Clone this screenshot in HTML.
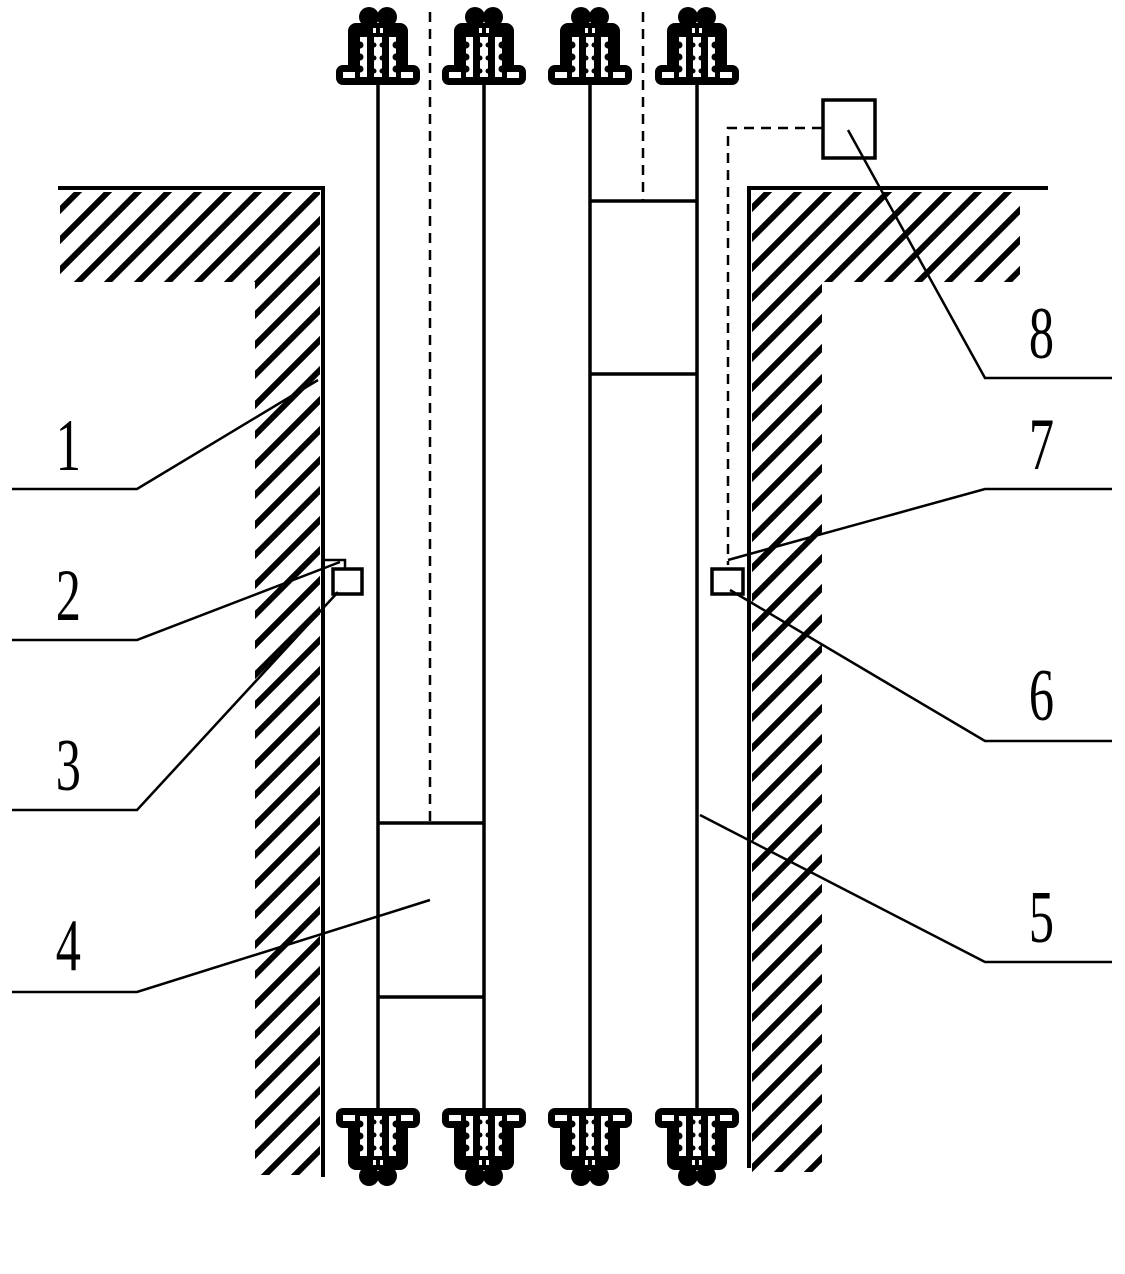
<!DOCTYPE html>
<html><head><meta charset="utf-8"><style>
html,body{margin:0;padding:0;background:#fff;}
svg{display:block;}
text{font-family:"Liberation Serif",serif;font-size:74px;fill:#000;}
</style></head><body>
<svg width="1125" height="1274" viewBox="0 0 1125 1274" xmlns="http://www.w3.org/2000/svg">
<defs>
<g id="pul">
  <circle cx="-9" cy="12" r="10" fill="#000"/>
  <circle cx="9" cy="12" r="10" fill="#000"/>
  <rect x="-30" y="18" width="60" height="56" rx="8" fill="#000"/>
  <rect x="-42" y="60" width="84" height="20" rx="7" fill="#000"/>
  <rect x="-35" y="67" width="12" height="6" fill="#fff"/>
  <rect x="23" y="67" width="12" height="6" fill="#fff"/>
  <rect x="-5" y="23" width="3" height="5" fill="#fff"/>
  <rect x="2" y="23" width="3" height="5" fill="#fff"/>
  <rect x="-18" y="32" width="7" height="40" fill="#fff"/>
  <rect x="-4" y="32" width="8" height="40" fill="#fff"/>
  <rect x="11" y="32" width="7" height="40" fill="#fff"/>
  <g fill="#000">
    <circle cx="-18" cy="40" r="3.5"/><circle cx="-18" cy="52" r="3.5"/><circle cx="-18" cy="64" r="3.5"/>
    <circle cx="18" cy="40" r="3.5"/><circle cx="18" cy="52" r="3.5"/><circle cx="18" cy="64" r="3.5"/>
    <circle cx="-4" cy="40" r="2.5"/><circle cx="4" cy="40" r="2.5"/>
    <circle cx="-4" cy="53" r="2.5"/><circle cx="4" cy="53" r="2.5"/>
    <circle cx="-4" cy="66" r="2.5"/><circle cx="4" cy="66" r="2.5"/>
  </g>
</g>
<pattern id="hatch" patternUnits="userSpaceOnUse" width="30" height="30">
  <path d="M-5,35 L35,-5 M-20,20 L20,-20 M10,50 L50,10" stroke="#000" stroke-width="6"/>
</pattern>
</defs>

<path d="M60,192 H320 V1175 H255 V282 H60 Z" fill="url(#hatch)"/>
<path d="M752,192 H1020 V282 H822 V1172 H752 Z" fill="url(#hatch)"/>
<g stroke="#000" stroke-width="4" fill="none">
  <path d="M58,188 H323 V1177"/>
  <path d="M1048,188 H749 V1168"/>
</g>

<g stroke="#000" stroke-width="3.5">
  <line x1="378" y1="82" x2="378" y2="1110"/>
  <line x1="484" y1="82" x2="484" y2="1110"/>
  <line x1="590" y1="82" x2="590" y2="1110"/>
  <line x1="697" y1="82" x2="697" y2="1110"/>
  <line x1="378" y1="823" x2="484" y2="823"/>
  <line x1="378" y1="997" x2="484" y2="997"/>
  <line x1="590" y1="201" x2="697" y2="201"/>
  <line x1="590" y1="374" x2="697" y2="374"/>
</g>
<g stroke="#000" stroke-width="2.5" stroke-dasharray="10,7" fill="none">
  <line x1="430" y1="12" x2="430" y2="823"/>
  <line x1="643" y1="12" x2="643" y2="201"/>
  <path d="M822,128 H728 V565"/>
</g>

<use href="#pul" transform="translate(378,5)"/>
<use href="#pul" transform="translate(484,5)"/>
<use href="#pul" transform="translate(590,5)"/>
<use href="#pul" transform="translate(697,5)"/>
<use href="#pul" transform="translate(378,1188) scale(1,-1)"/>
<use href="#pul" transform="translate(484,1188) scale(1,-1)"/>
<use href="#pul" transform="translate(590,1188) scale(1,-1)"/>
<use href="#pul" transform="translate(697,1188) scale(1,-1)"/>

<g stroke="#000" stroke-width="3.5" fill="#fff">
  <rect x="823" y="100" width="52" height="58"/>
  <rect x="333" y="569" width="29" height="25"/>
  <rect x="712" y="569" width="31" height="25"/>
</g>
<g stroke="#000" stroke-width="2.5" fill="none">
  <path d="M323,560 H345 V569"/>
  <path d="M12,489 H137 L318,380"/>
  <path d="M12,640 H137 L340,562"/>
  <path d="M12,810 H137 L338,592"/>
  <path d="M12,992 H137 L430,900"/>
  <path d="M1112,962 H985 L700,815"/>
  <path d="M1112,741 H985 L730,590"/>
  <path d="M1112,489 H985 L728,560"/>
  <path d="M1112,378 H985 L848,130"/>
</g>

<g transform="scale(0.68,1)">
<text x="82" y="470">1</text>
<text x="82" y="620">2</text>
<text x="82" y="790">3</text>
<text x="82" y="970">4</text>
<text x="1513" y="942">5</text>
<text x="1513" y="720">6</text>
<text x="1513" y="469">7</text>
<text x="1513" y="358">8</text>
</g>
</svg>
</body></html>
